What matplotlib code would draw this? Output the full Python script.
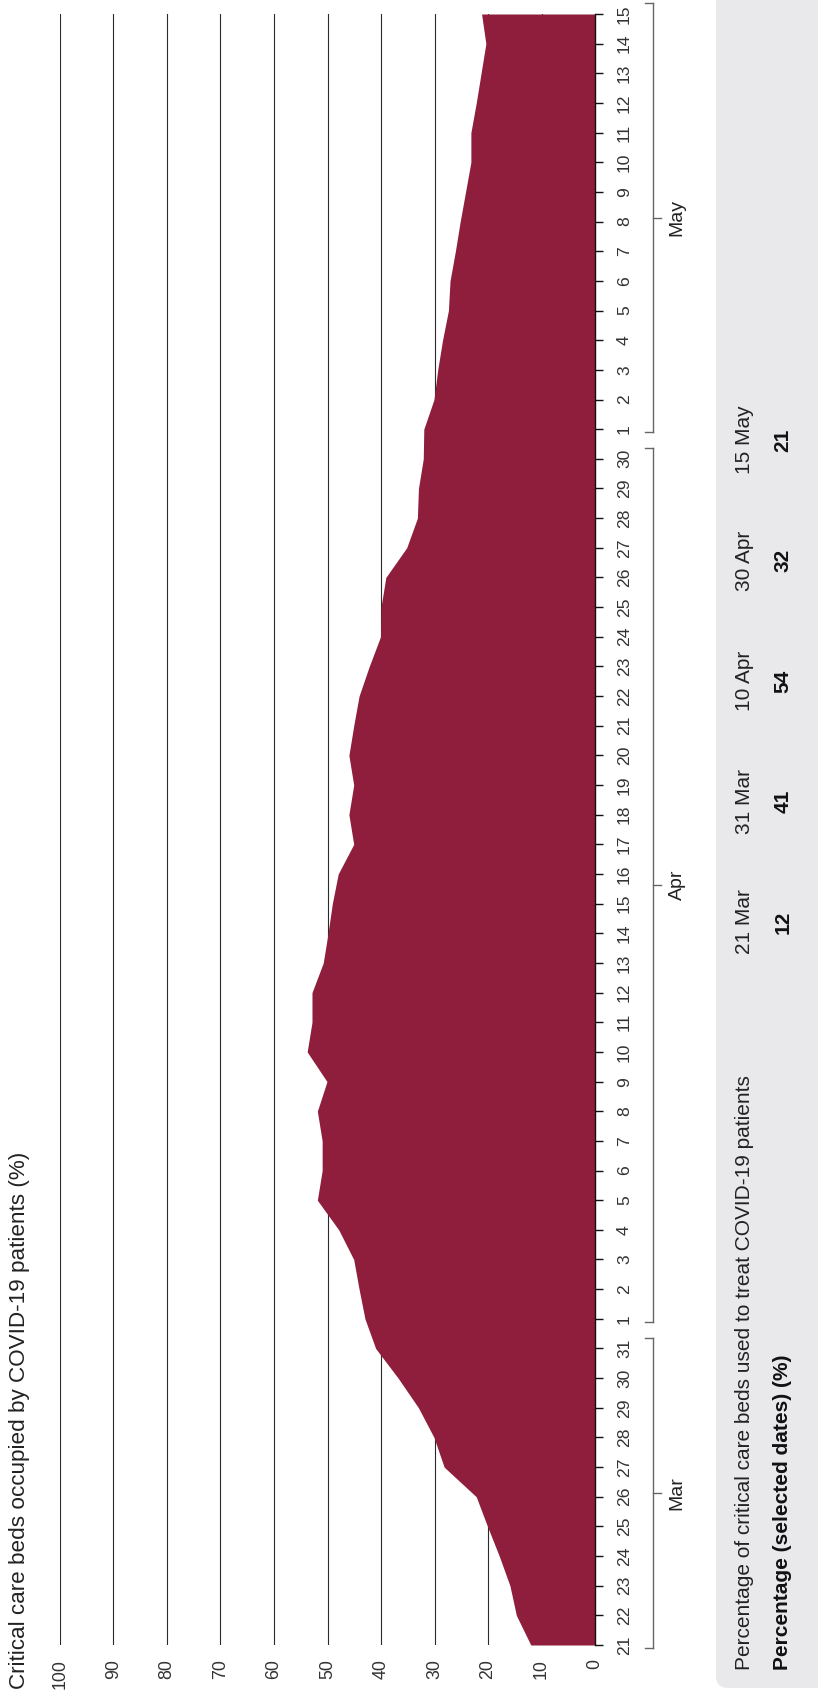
import matplotlib
matplotlib.use('Agg')
import matplotlib.pyplot as plt
from matplotlib.patches import FancyBboxPatch
from matplotlib.transforms import blended_transform_factory
import numpy as np
import pandas as pd

plt.rcParams['font.family'] = ['Liberation Sans', 'DejaVu Sans']

# ---------------- data ----------------
dates = pd.date_range('2020-03-21', '2020-05-15', freq='D')
pct = [12.0, 14.7, 15.9, 17.9, 20.1, 22.2, 28.2, 30.1, 33.0, 36.8, 41.0,
       43.0, 44.1, 45.1, 47.9, 51.9, 51.0, 51.0, 51.9, 50.1, 53.8,
       52.9, 52.9, 50.8, 49.9, 49.1, 48.0, 45.1, 46.0, 45.1, 46.0,
       45.1, 44.1, 42.2, 40.1, 40.0, 39.1, 35.2, 33.2, 33.0, 32.1,
       32.0, 30.1, 29.4, 28.5, 27.4, 27.1, 26.1, 25.2, 24.2, 23.2,
       23.2, 22.2, 21.3, 20.4, 21.2]
value_ticks = [0, 10, 20, 30, 40, 50, 60, 70, 80, 90, 100]
months = ['Mar', 'Apr', 'May']
month_numbers = [3, 4, 5]
table_dates = ['21 Mar', '31 Mar', '10 Apr', '30 Apr', '15 May']
table_values = [12, 41, 54, 32, 21]
title = 'Critical care beds occupied by COVID-19 patients (%)'
row1_label = 'Percentage of critical care beds used to treat COVID-19 patients'
row2_label = 'Percentage (selected dates) (%)'

FILL = '#8e1e3c'
TXT = '#222222'

W, H = 818, 1696
fig = plt.figure(figsize=(W / 100, H / 100), dpi=100)


def fx(px):
    return px / W


def fy(py):
    return 1 - py / H


# gray table panel (behind everything)
panel = FancyBboxPatch((716 / 100, 8 / 100), 2.0, 20.0,
                       boxstyle='round,pad=0,rounding_size=0.12',
                       transform=fig.dpi_scale_trans, facecolor='#e9e9eb',
                       edgecolor='none', zorder=0)
fig.patches.append(panel)

ax = fig.add_axes([fx(60), fy(1645), fx(595) - fx(60), fy(14) - fy(1645)])
idx = np.arange(len(dates))
ax.fill_betweenx(idx, 0, pct, color=FILL, lw=0, zorder=2)
ax.set_xlim(100, 0)
ax.set_ylim(0, len(dates) - 1)
ax.set_xticks(value_ticks)
ax.set_xticklabels([str(v) for v in value_ticks], rotation=90)
ax.xaxis.grid(True, color='#2a2a2a', lw=0.8)
ax.set_axisbelow(True)
ax.tick_params(axis='x', length=0, pad=10, labelsize=12.8, labelcolor='#333333')
ax.yaxis.tick_right()
ax.set_yticks(idx)
ax.set_yticklabels([str(d.day) for d in dates], rotation=90, va='center')
ax.tick_params(axis='y', length=5.4, width=1, pad=10.5, labelsize=12.6,
               labelcolor='#333333', color='#111111')
for s in ['top', 'left', 'bottom']:
    ax.spines[s].set_visible(False)
ax.spines['right'].set_color('#111111')
ax.spines['right'].set_linewidth(1)
ax.patch.set_alpha(0)

# month brackets
tr = blended_transform_factory(fig.transFigure, ax.transData)
for name, num in zip(months, month_numbers):
    sel = idx[dates.month == num]
    lo, hi = sel[0] - 0.1, sel[-1] + 0.36
    mid = (lo + hi) / 2
    kw = dict(transform=tr, color='#666666', lw=1, clip_on=False)
    fig.add_artist(plt.Line2D([fx(653), fx(653)], [lo, hi], **kw))
    fig.add_artist(plt.Line2D([fx(645), fx(653)], [lo, lo], **kw))
    fig.add_artist(plt.Line2D([fx(645), fx(653)], [hi, hi], **kw))
    fig.add_artist(plt.Line2D([fx(653), fx(661)], [mid, mid], **kw))
    fig.text(fx(677), mid, name, transform=tr, rotation=90, ha='center',
             va='center', fontsize=14, color=TXT)

# title
fig.text(fx(20), fy(1689), title, rotation=90, ha='center', va='bottom',
         fontsize=16.2, color=TXT)

# table
fig.text(fx(744), fy(1670), row1_label, rotation=90, ha='center', va='bottom',
         fontsize=15, color=TXT)
fig.text(fx(783), fy(1670), row2_label, rotation=90, ha='center', va='bottom',
         fontsize=15, color='#111111', fontweight='bold')
for i, (d, v) in enumerate(zip(table_dates, table_values)):
    yc = 922 - 120.5 * i
    fig.text(fx(744), fy(yc), d, rotation=90, ha='center', va='center',
             fontsize=15, color=TXT)
    fig.text(fx(783), fy(yc), str(v), rotation=90, ha='center', va='center',
             fontsize=15, color='#111111', fontweight='bold')

fig.savefig('out.png', dpi=100)
